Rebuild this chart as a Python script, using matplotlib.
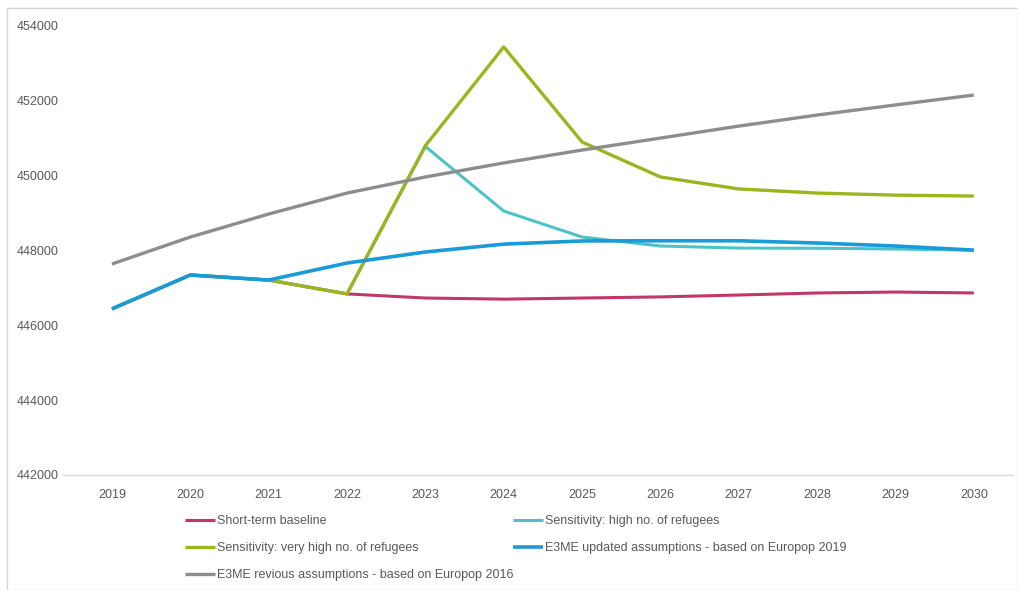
import matplotlib
matplotlib.use('Agg')
import matplotlib.pyplot as plt
from matplotlib.patches import Rectangle

years = [2019, 2020, 2021, 2022, 2023, 2024, 2025, 2026, 2027, 2028, 2029, 2030]

baseline = [446440, 447345, 447210, 446840, 446730, 446700, 446730, 446760, 446810, 446865, 446890, 446865]
high_refugees = [446440, 447345, 447210, 446840, 450780, 449055, 448360, 448120, 448065, 448060, 448040, 448010]
very_high_refugees = [446440, 447345, 447210, 446840, 450800, 453440, 450900, 449965, 449645, 449535, 449480, 449455]
updated_2019 = [446440, 447345, 447210, 447665, 447960, 448170, 448255, 448260, 448260, 448200, 448120, 448010]
previous_2016 = [447640, 448360, 448975, 449535, 449965, 450340, 450685, 451005, 451325, 451620, 451890, 452155]

labels = ['Short-term baseline',
          'Sensitivity: high no. of refugees',
          'Sensitivity: very high no. of refugees',
          'E3ME updated assumptions - based on Europop 2019',
          'E3ME revious assumptions - based on Europop 2016']
colors = ['#C2376A', '#4EC3C6', '#9DB41E', '#1A9AD8', '#8D8D8D']

plt.rcParams['font.family'] = ['Liberation Sans', 'DejaVu Sans']

fig = plt.figure(figsize=(10.18, 5.9), dpi=100)
ax = fig.add_axes([63 / 1018, 1 - 475 / 590, 950 / 1018, 449 / 590])

# outer frame like the screenshot
fig.patches.append(Rectangle((7 / 1018, 0), 1 - 7 / 1018, 1 - 8 / 590, transform=fig.transFigure,
                             fill=False, edgecolor='#D6D6D6', linewidth=1))

series = [baseline, high_refugees, very_high_refugees, updated_2019, previous_2016]
widths = [2.2, 2.2, 2.4, 2.6, 2.4]
lines = []
for s, c, lw, lab in zip(series, colors, widths, labels):
    l, = ax.plot(years, s, color=c, linewidth=lw, label=lab, solid_capstyle='butt')
    lines.append(l)

ax.set_xlim(2018.375, 2030.5)
ax.set_ylim(442000, 454000)
ax.set_xticks(years)
ax.set_yticks(range(442000, 454001, 2000))
ax.tick_params(axis='both', length=0, labelsize=9, labelcolor='#595959')
ax.tick_params(axis='x', pad=10)
ax.tick_params(axis='y', pad=3)
for sp in ['top', 'right', 'left']:
    ax.spines[sp].set_visible(False)
ax.spines['bottom'].set_color('#D9D9D9')
ax.spines['bottom'].set_linewidth(1)

order = [0, 2, 4, 1, 3]
leg = fig.legend([lines[i] for i in order], [labels[i] for i in order],
                 ncol=2, frameon=False, loc='upper left',
                 bbox_to_anchor=(185 / 1018, 1 - 515 / 590),
                 borderpad=0, borderaxespad=0, handlelength=2.4, handletextpad=0.15,
                 columnspacing=0.0, labelspacing=1.2, fontsize=9, labelcolor='#595959')

fig.savefig('out.png', dpi=100)
